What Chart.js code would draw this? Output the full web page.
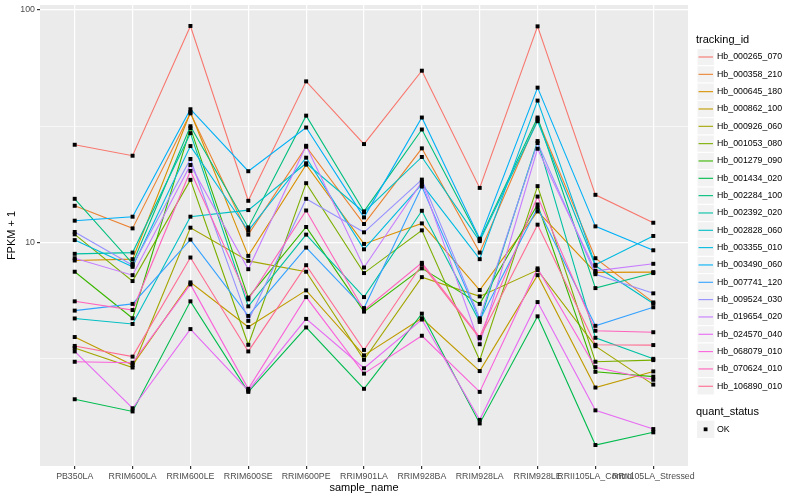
<!DOCTYPE html>
<html>
<head>
<meta charset="utf-8">
<script src="https://cdn.jsdelivr.net/npm/chart.js@4.4.1/dist/chart.umd.min.js"></script>
<style>
html,body{margin:0;padding:0;background:#ffffff;}
#wrap{width:800px;height:500px;}
</style>
</head>
<body>
<div id="wrap"><canvas id="c" width="800" height="500"></canvas></div>
<script>
// ---------- DATA ----------
const categories = ["PB350LA","RRIM600LA","RRIM600LE","RRIM600SE","RRIM600PE","RRIM901LA","RRIM928BA","RRIM928LA","RRIM928LE","RRII105LA_Control","RRII105LA_Stressed"];

const trackingIds = ["Hb_000265_070","Hb_000358_210","Hb_000645_180","Hb_000862_100","Hb_000926_060","Hb_001053_080","Hb_001279_090","Hb_001434_020","Hb_002284_100","Hb_002392_020","Hb_002828_060","Hb_003355_010","Hb_003490_060","Hb_007741_120","Hb_009524_030","Hb_019654_020","Hb_024570_040","Hb_068079_010","Hb_070624_010","Hb_106890_010"];

const seriesColors = ["#F8766D","#EA8331","#D89000","#C09B00","#A3A500","#7CAE00","#39B600","#00BB4E","#00BF7D","#00C1A3","#00BFC4","#00BAE0","#00B0F6","#35A2FF","#9590FF","#C77CFF","#E76BF3","#FA62DB","#FF62BC","#FF6C91"];

// FPKM + 1, one value per sample (same order as categories)
const hb_000265_070 = [26.3, 23.59, 85.4, 15.09, 49.3, 26.48, 54.8, 17.15, 85.07, 16.01, 12.14];
const hb_000358_210 = [14.36, 11.48, 35.9, 10.79, 25.78, 11.99, 25.38, 9.03, 33.88, 8.54, 5.51];
const hb_000645_180 = [8.35, 8.46, 36.3, 8.74, 21.59, 9.84, 12.06, 6.23, 13.58, 7.42, 7.44];
const hb_000862_100 = [3.91, 2.96, 6.72, 4.32, 6.21, 3.26, 4.71, 2.79, 7.22, 2.37, 2.78];
const hb_000926_060 = [3.51, 2.89, 11.56, 8.32, 7.47, 3.12, 7.08, 5.85, 7.59, 3.57, 2.44];
const hb_001053_080 = [10.82, 6.81, 18.57, 3.62, 17.97, 7.37, 11.26, 3.11, 17.45, 3.06, 3.11];
const hb_001279_090 = [7.47, 4.71, 31.0, 5.78, 11.64, 5.03, 7.72, 5.43, 14.55, 2.77, 2.64];
const hb_001434_020 = [2.11, 1.87, 5.57, 2.27, 4.30, 2.34, 4.93, 1.66, 4.80, 1.34, 1.52];
const hb_002284_100 = [15.39, 8.10, 31.6, 11.59, 35.1, 13.58, 30.6, 10.27, 34.45, 6.35, 7.37];
const hb_002392_020 = [8.92, 9.03, 29.5, 5.30, 10.79, 5.81, 13.67, 4.54, 27.28, 3.88, 3.15];
const hb_002828_060 = [4.70, 4.45, 12.89, 13.76, 21.89, 13.47, 23.30, 10.12, 33.22, 7.92, 5.45];
const hb_003355_010 = [10.22, 7.84, 25.96, 11.22, 23.14, 9.33, 17.79, 8.46, 40.75, 8.00, 10.65];
const hb_003490_060 = [12.39, 12.89, 37.4, 20.23, 31.2, 12.80, 34.45, 10.37, 46.33, 11.71, 9.24];
const hb_007741_120 = [5.08, 5.43, 10.27, 4.82, 9.49, 5.21, 17.38, 4.62, 14.08, 4.37, 5.25];
const hb_009524_030 = [11.08, 7.97, 22.84, 4.59, 15.39, 11.04, 18.62, 4.71, 26.75, 7.29, 6.03];
const hb_019654_020 = [8.54, 7.22, 21.52, 7.66, 26.03, 7.79, 18.20, 3.64, 25.28, 7.54, 8.08];
const hb_024570_040 = [3.39, 1.93, 4.23, 2.30, 4.68, 2.87, 4.65, 1.72, 5.53, 1.89, 1.57];
const hb_068079_010 = [3.06, 3.03, 6.59, 2.34, 5.81, 2.72, 3.96, 2.27, 7.72, 2.90, 2.56];
const hb_070624_010 = [5.57, 5.11, 20.29, 5.68, 13.71, 5.10, 8.16, 3.91, 15.74, 4.16, 4.10];
const hb_106890_010 = [3.58, 3.22, 8.60, 3.39, 7.97, 3.44, 8.02, 3.86, 11.91, 3.62, 3.61];

const seriesValues = [hb_000265_070, hb_000358_210, hb_000645_180, hb_000862_100, hb_000926_060, hb_001053_080, hb_001279_090, hb_001434_020, hb_002284_100, hb_002392_020, hb_002828_060, hb_003355_010, hb_003490_060, hb_007741_120, hb_009524_030, hb_019654_020, hb_024570_040, hb_068079_010, hb_070624_010, hb_106890_010];

const yBreaks = [Math.sqrt(10), 10, Math.sqrt(1000), 100];
const yTickLabels = {10: "10", 100: "100"};
const quantStatus = ["OK"];

// ---------- CHART ----------
const FONT = "'Liberation Sans', Arial, Helvetica, sans-serif";

const allVals = seriesValues.flat();
const lo = Math.log10(Math.min(...allVals));
const hi = Math.log10(Math.max(...allVals));
const pad = (hi - lo) * 0.05;
const yMin = Math.pow(10, lo - pad);
const yMax = Math.pow(10, hi + pad);

const isMajor = v => Object.keys(yTickLabels).some(k => Math.abs(Number(k) - v) < 1e-6);

const lineDatasets = seriesValues.map((vals, i) => ({
  label: trackingIds[i],
  data: vals.map((v, j) => ({x: j, y: v})),
  borderColor: seriesColors[i],
  backgroundColor: seriesColors[i],
  borderWidth: 1.1,
  pointRadius: 0,
  tension: 0,
  fill: false,
  order: 40 - i
}));

const pointDataset = {
  label: "OK",
  data: seriesValues.flatMap(vals => vals.map((v, j) => ({x: j, y: v}))),
  showLine: false,
  pointStyle: 'rect',
  pointRadius: 2.8,
  pointBorderWidth: 0,
  pointBackgroundColor: '#000000',
  borderColor: '#000000',
  order: 0
};

const panelBg = {
  id: 'panelBg',
  beforeDraw(chart) {
    const {ctx, chartArea: a} = chart;
    ctx.save();
    ctx.fillStyle = '#FFFFFF';
    ctx.fillRect(0, 0, chart.width, chart.height);
    ctx.fillStyle = '#EBEBEB';
    ctx.fillRect(a.left, a.top, a.right - a.left, a.bottom - a.top);
    ctx.restore();
  }
};

const ggLegend = {
  id: 'ggLegend',
  afterDraw(chart) {
    const {ctx, chartArea: a} = chart;
    ctx.save();
    ctx.textBaseline = 'middle';
    ctx.textAlign = 'left';
    ctx.fillStyle = '#000000';
    ctx.font = `11px ${FONT}`;
    ctx.fillText('tracking_id', 696, 40);
    trackingIds.forEach((id, i) => {
      const cy = 57 + i * 17.33;
      ctx.fillStyle = '#F2F2F2';
      ctx.fillRect(697, cy - 8.6, 17.3, 17.3);
      ctx.strokeStyle = '#FFFFFF';
      ctx.lineWidth = 1;
      ctx.strokeRect(697, cy - 8.6, 17.3, 17.3);
      ctx.strokeStyle = seriesColors[i];
      ctx.lineWidth = 1.1;
      ctx.beginPath();
      ctx.moveTo(698.5, cy);
      ctx.lineTo(713, cy);
      ctx.stroke();
      ctx.fillStyle = '#000000';
      ctx.font = `8.8px ${FONT}`;
      ctx.fillText(id, 717, cy);
    });
    ctx.font = `11px ${FONT}`;
    ctx.fillText('quant_status', 696, 412.3);
    const oy = 429.3;
    ctx.fillStyle = '#F2F2F2';
    ctx.fillRect(697, oy - 8.6, 17.3, 17.3);
    ctx.fillStyle = '#000000';
    ctx.fillRect(705.6 - 1.9, oy - 1.9, 3.8, 3.8);
    ctx.font = `8.8px ${FONT}`;
    ctx.fillText(quantStatus[0], 717, oy);
    // axis titles
    ctx.font = `11px ${FONT}`;
    ctx.textAlign = 'center';
    ctx.fillText('sample_name', (a.left + a.right) / 2, 488);
    ctx.translate(12, (a.top + a.bottom) / 2);
    ctx.rotate(-Math.PI / 2);
    ctx.fillText('FPKM + 1', 0, 0);
    ctx.restore();
  }
};

new Chart(document.getElementById('c'), {
  type: 'line',
  data: {datasets: [pointDataset, ...lineDatasets]},
  options: {
    responsive: false,
    animation: false,
    devicePixelRatio: 1,
    layout: {padding: {left: 0, top: 5, right: 112, bottom: 0}},
    plugins: {legend: {display: false}, tooltip: {enabled: false}},
    scales: {
      x: {
        type: 'linear',
        min: -0.6,
        max: categories.length - 1 + 0.6,
        afterBuildTicks(s) { s.ticks = categories.map((c, i) => ({value: i})); },
        afterFit(s) { s.height = 34; s.paddingLeft = 0; s.paddingRight = 0; },
        ticks: {
          callback: v => categories[v],
          autoSkip: false, maxRotation: 0, minRotation: 0,
          color: '#4D4D4D', font: {size: 8.8, family: FONT}, padding: 2
        },
        grid: {color: '#FFFFFF', lineWidth: 1.2, tickColor: '#333333', tickLength: 3},
        border: {display: false}
      },
      y: {
        type: 'logarithmic',
        min: yMin,
        max: yMax,
        afterBuildTicks(s) { s.ticks = yBreaks.map(v => ({value: v})); },
        afterFit(s) { s.width = 40; s.paddingTop = 0; s.paddingBottom = 0; },
        ticks: {
          callback: v => { for (const k in yTickLabels) { if (Math.abs(Number(k) - v) < 1e-6) return yTickLabels[k]; } return ''; },
          color: '#4D4D4D', font: {size: 8.8, family: FONT}, padding: 2
        },
        grid: {
          color: '#FFFFFF',
          lineWidth: ctx => (ctx.tick && isMajor(ctx.tick.value)) ? 1.2 : 0.6,
          tickColor: ctx => (ctx.tick && isMajor(ctx.tick.value)) ? '#333333' : 'rgba(0,0,0,0)',
          tickLength: 3
        },
        border: {display: false}
      }
    }
  },
  plugins: [panelBg, ggLegend]
});
</script>
</body>
</html>
